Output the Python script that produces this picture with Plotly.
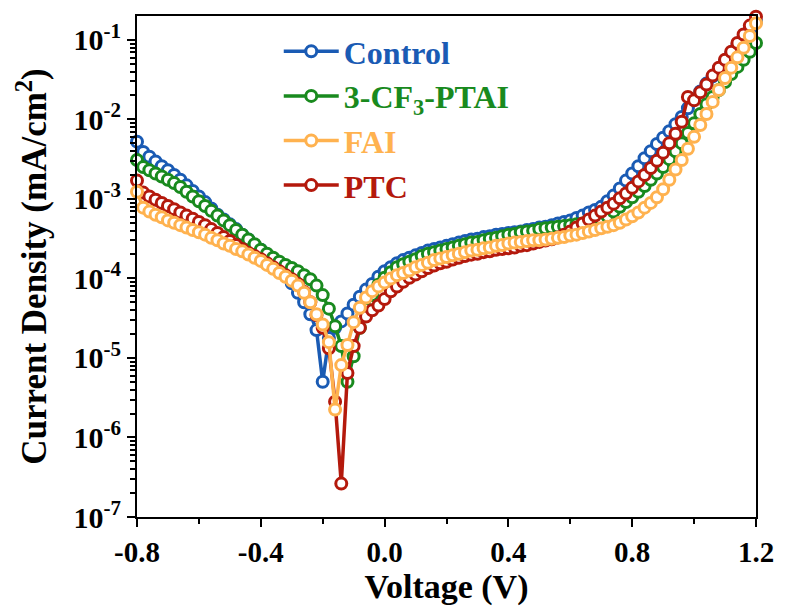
import plotly.graph_objects as go

voltage = [
    -0.80, -0.78, -0.76, -0.74, -0.72, -0.70, -0.68, -0.66, -0.64, -0.62,
    -0.60, -0.58, -0.56, -0.54, -0.52, -0.50, -0.48, -0.46, -0.44, -0.42,
    -0.40, -0.38, -0.36, -0.34, -0.32, -0.30, -0.28, -0.26, -0.24, -0.22,
    -0.20, -0.18, -0.16, -0.14, -0.12, -0.10, -0.08, -0.06, -0.04, -0.02,
    0.00, 0.02, 0.04, 0.06, 0.08, 0.10, 0.12, 0.14, 0.16, 0.18,
    0.20, 0.22, 0.24, 0.26, 0.28, 0.30, 0.32, 0.34, 0.36, 0.38,
    0.40, 0.42, 0.44, 0.46, 0.48, 0.50, 0.52, 0.54, 0.56, 0.58,
    0.60, 0.62, 0.64, 0.66, 0.68, 0.70, 0.72, 0.74, 0.76, 0.78,
    0.80, 0.82, 0.84, 0.86, 0.88, 0.90, 0.92, 0.94, 0.96, 0.98,
    1.00, 1.02, 1.04, 1.06, 1.08, 1.10, 1.12, 1.14, 1.16, 1.18,
    1.20,
]

control = [
    5.25e-3, 3.89e-3, 3.39e-3, 2.95e-3, 2.57e-3, 2.29e-3, 2.00e-3, 1.74e-3, 1.48e-3, 1.26e-3,
    1.07e-3, 9.12e-4, 7.59e-4, 6.31e-4, 5.50e-4, 4.79e-4, 4.17e-4, 3.55e-4, 3.09e-4, 2.63e-4,
    2.29e-4, 1.91e-4, 1.58e-4, 1.32e-4, 1.07e-4, 8.71e-5, 6.61e-5, 5.01e-5, 3.55e-5, 2.24e-5,
    5.01e-6, 1.78e-5, 2.40e-5, 2.88e-5, 3.63e-5, 4.68e-5, 5.89e-5, 7.24e-5, 8.51e-5, 1.05e-4,
    1.23e-4, 1.38e-4, 1.55e-4, 1.70e-4, 1.82e-4, 1.95e-4, 2.09e-4, 2.24e-4, 2.34e-4, 2.45e-4,
    2.57e-4, 2.69e-4, 2.82e-4, 2.95e-4, 3.09e-4, 3.16e-4, 3.31e-4, 3.39e-4, 3.55e-4, 3.63e-4,
    3.72e-4, 3.80e-4, 3.89e-4, 4.07e-4, 4.17e-4, 4.37e-4, 4.47e-4, 4.68e-4, 4.90e-4, 5.13e-4,
    5.37e-4, 5.75e-4, 6.17e-4, 6.76e-4, 7.24e-4, 7.94e-4, 9.33e-4, 1.10e-3, 1.35e-3, 1.70e-3,
    2.09e-3, 2.57e-3, 3.24e-3, 3.98e-3, 4.90e-3, 5.89e-3, 7.08e-3, 8.71e-3, 1.07e-2, 1.38e-2,
    1.78e-2, 2.24e-2, 2.82e-2, 3.47e-2, 4.37e-2, 5.37e-2, 6.76e-2, 8.51e-2, 1.07e-1, 1.35e-1,
    1.70e-1,
]

cf3_ptai = [
    3.09e-3, 2.51e-3, 2.29e-3, 2.09e-3, 1.91e-3, 1.74e-3, 1.58e-3, 1.41e-3, 1.23e-3, 1.07e-3,
    9.33e-4, 8.13e-4, 7.08e-4, 6.17e-4, 5.37e-4, 4.68e-4, 4.07e-4, 3.55e-4, 3.09e-4, 2.69e-4,
    2.29e-4, 2.04e-4, 1.82e-4, 1.62e-4, 1.48e-4, 1.35e-4, 1.23e-4, 1.10e-4, 9.77e-5, 8.13e-5,
    6.17e-5, 4.17e-5, 2.51e-5, 1.41e-5, 5.01e-6, 1.05e-5, 2.40e-5, 4.17e-5, 6.17e-5, 8.32e-5,
    1.02e-4, 1.20e-4, 1.38e-4, 1.51e-4, 1.62e-4, 1.74e-4, 1.91e-4, 2.04e-4, 2.14e-4, 2.24e-4,
    2.34e-4, 2.45e-4, 2.57e-4, 2.69e-4, 2.82e-4, 2.88e-4, 3.02e-4, 3.16e-4, 3.24e-4, 3.39e-4,
    3.55e-4, 3.63e-4, 3.80e-4, 3.89e-4, 3.98e-4, 4.17e-4, 4.27e-4, 4.37e-4, 4.47e-4, 4.57e-4,
    4.68e-4, 4.79e-4, 4.90e-4, 5.01e-4, 5.13e-4, 5.37e-4, 6.03e-4, 6.92e-4, 7.94e-4, 9.12e-4,
    1.05e-3, 1.23e-3, 1.45e-3, 1.74e-3, 2.09e-3, 2.51e-3, 3.16e-3, 3.98e-3, 5.01e-3, 6.76e-3,
    8.91e-3, 1.17e-2, 1.55e-2, 1.91e-2, 2.34e-2, 2.95e-2, 3.72e-2, 4.57e-2, 5.62e-2, 7.08e-2,
    9.12e-2,
]

fai = [
    1.23e-3, 7.76e-4, 6.92e-4, 6.31e-4, 5.89e-4, 5.37e-4, 5.01e-4, 4.68e-4, 4.37e-4, 4.07e-4,
    3.80e-4, 3.55e-4, 3.24e-4, 3.02e-4, 2.75e-4, 2.57e-4, 2.34e-4, 2.19e-4, 2.00e-4, 1.82e-4,
    1.66e-4, 1.48e-4, 1.32e-4, 1.17e-4, 1.05e-4, 9.33e-5, 8.13e-5, 6.61e-5, 5.01e-5, 3.55e-5,
    2.63e-5, 1.58e-5, 2.24e-6, 8.13e-6, 1.45e-5, 2.82e-5, 4.27e-5, 5.75e-5, 6.92e-5, 7.94e-5,
    8.91e-5, 1.00e-4, 1.10e-4, 1.17e-4, 1.26e-4, 1.38e-4, 1.48e-4, 1.58e-4, 1.70e-4, 1.78e-4,
    1.86e-4, 1.95e-4, 2.04e-4, 2.14e-4, 2.24e-4, 2.29e-4, 2.40e-4, 2.45e-4, 2.57e-4, 2.63e-4,
    2.75e-4, 2.82e-4, 2.88e-4, 2.95e-4, 3.02e-4, 3.02e-4, 3.09e-4, 3.16e-4, 3.24e-4, 3.31e-4,
    3.47e-4, 3.55e-4, 3.72e-4, 3.89e-4, 4.07e-4, 4.27e-4, 4.47e-4, 4.68e-4, 5.01e-4, 5.50e-4,
    6.03e-4, 6.76e-4, 7.76e-4, 8.91e-4, 1.05e-3, 1.32e-3, 1.74e-3, 2.34e-3, 3.09e-3, 4.27e-3,
    6.03e-3, 8.51e-3, 1.17e-2, 1.66e-2, 2.34e-2, 3.31e-2, 4.47e-2, 6.03e-2, 7.94e-2, 1.12e-1,
    1.62e-1,
]

ptc = [
    1.70e-3, 1.20e-3, 1.07e-3, 9.77e-4, 8.91e-4, 8.13e-4, 7.41e-4, 6.76e-4, 6.17e-4, 5.62e-4,
    5.13e-4, 4.68e-4, 4.17e-4, 3.72e-4, 3.31e-4, 2.95e-4, 2.63e-4, 2.34e-4, 2.09e-4, 1.91e-4,
    1.74e-4, 1.55e-4, 1.38e-4, 1.23e-4, 1.10e-4, 9.77e-5, 8.51e-5, 6.76e-5, 5.01e-5, 3.47e-5,
    2.40e-5, 1.32e-5, 2.82e-6, 2.63e-7, 6.46e-6, 1.41e-5, 2.40e-5, 3.31e-5, 3.98e-5, 4.57e-5,
    5.50e-5, 6.90e-5, 7.90e-5, 9.10e-5, 1.02e-4, 1.12e-4, 1.23e-4, 1.35e-4, 1.45e-4, 1.55e-4,
    1.62e-4, 1.73e-4, 1.82e-4, 1.91e-4, 1.99e-4, 2.04e-4, 2.14e-4, 2.19e-4, 2.29e-4, 2.34e-4,
    2.40e-4, 2.45e-4, 2.57e-4, 2.62e-4, 2.75e-4, 2.88e-4, 3.00e-4, 3.10e-4, 3.28e-4, 3.55e-4,
    3.89e-4, 4.37e-4, 4.90e-4, 5.50e-4, 6.17e-4, 6.92e-4, 7.76e-4, 8.71e-4, 1.02e-3, 1.17e-3,
    1.38e-3, 1.66e-3, 2.00e-3, 2.45e-3, 3.02e-3, 3.80e-3, 5.01e-3, 6.61e-3, 9.33e-3, 1.91e-2,
    1.74e-2, 2.19e-2, 2.75e-2, 3.55e-2, 4.47e-2, 5.62e-2, 7.08e-2, 9.12e-2, 1.17e-1, 1.51e-1,
    1.95e-1,
]

series_names = ["Control", "3-CF<sub>3</sub>-PTAI", "FAI", "PTC"]
series_colors = ["#1a5bb4", "#198a1e", "#ffb24f", "#b4190c"]
series_values = [control, cf3_ptai, fai, ptc]
legend_ranks = [1, 2, 3, 4]
draw_order = [0, 1, 3, 2]

x_tickvals = [-0.8, -0.4, 0.0, 0.4, 0.8, 1.2]
x_ticktext = ["-0.8", "-0.4", "0.0", "0.4", "0.8", "1.2"]
y_tickvals = [1e-7, 1e-6, 1e-5, 1e-4, 1e-3, 1e-2, 1e-1]
y_ticktext = ["10<sup>-7</sup>", "10<sup>-6</sup>", "10<sup>-5</sup>", "10<sup>-4</sup>",
              "10<sup>-3</sup>", "10<sup>-2</sup>", "10<sup>-1</sup>"]
y_minor = [k * 10.0 ** e for e in range(-7, 0) for k in range(2, 10)]

for arr in series_values:
    assert len(arr) == len(voltage), len(arr)

FONT = "Liberation Serif"

fig = go.Figure()
for i in draw_order:
    c = series_colors[i]
    fig.add_trace(go.Scatter(
        x=voltage, y=series_values[i], mode="lines+markers",
        name=f"<span style='color:{c}'>{series_names[i]}</span>",
        legendrank=legend_ranks[i],
        line=dict(color=c, width=3.5),
        marker=dict(symbol="circle", size=11, color="white",
                    line=dict(color=c, width=3)),
        cliponaxis=False,
    ))

axis_common = dict(
    showline=True, linecolor="black", linewidth=2, mirror=True,
    ticks="outside", ticklen=8, tickwidth=2, tickcolor="black",
    showgrid=False, zeroline=False,
)

fig.update_xaxes(
    range=[-0.8, 1.2], tickmode="array", tickvals=x_tickvals, ticktext=x_ticktext,
    tickfont=dict(family=FONT, size=29, color="black", weight="bold"),
    minor=dict(tickmode="linear", tick0=-0.8, dtick=0.2, ticks="outside",
               ticklen=5, tickwidth=1.5, tickcolor="black", showgrid=False),
    title=dict(text="Voltage (V)", standoff=6,
               font=dict(family=FONT, size=34, color="black", weight="bold")),
    **axis_common,
)
fig.update_yaxes(
    type="log", range=[-7, -0.70], tickmode="array", tickvals=y_tickvals, ticktext=y_ticktext,
    tickfont=dict(family=FONT, size=30, color="black", weight="bold"),
    minor=dict(tickmode="array", tickvals=y_minor, ticks="outside",
               ticklen=5, tickwidth=1.5, tickcolor="black", showgrid=False),
    title=dict(text="Current Density (mA/cm<sup>2</sup>)", standoff=16,
               font=dict(family=FONT, size=35, color="black", weight="bold")),
    **axis_common,
)

fig.update_layout(
    width=786, height=613,
    margin=dict(l=137, r=25, t=16, b=96),
    paper_bgcolor="white", plot_bgcolor="white",
    showlegend=True,
    legend=dict(
        x=0.229, y=0.984, xanchor="left", yanchor="top",
        bgcolor="rgba(0,0,0,0)", borderwidth=0,
        font=dict(family=FONT, size=32, weight="bold"),
        itemwidth=55, tracegroupgap=0,
    ),
)

fig.write_html("out.html")
